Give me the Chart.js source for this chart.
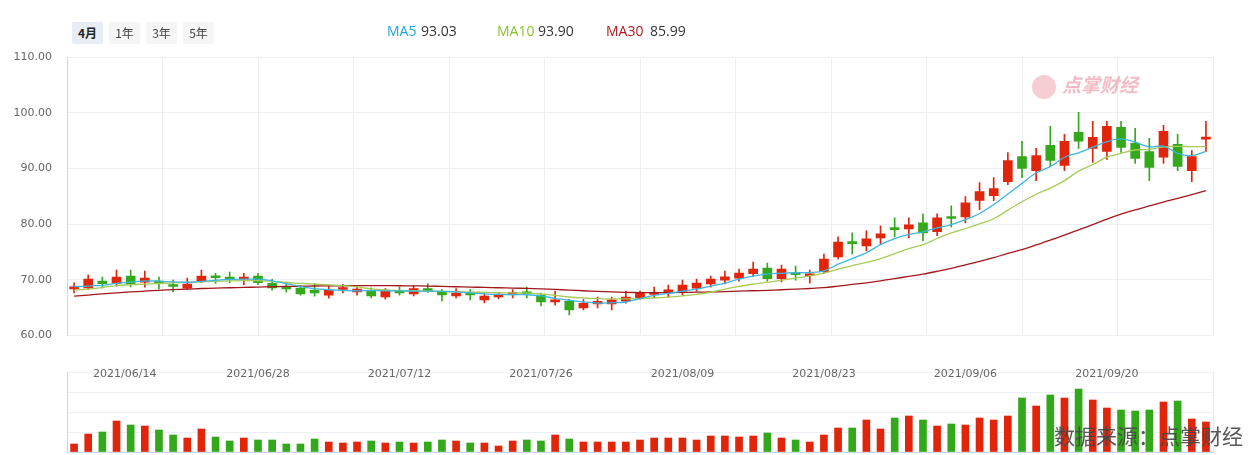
<!DOCTYPE html>
<html>
<head>
<meta charset="utf-8">
<script src="https://cdn.jsdelivr.net/npm/chart.js@4.4.1/dist/chart.umd.min.js"></script>
<style>
  html, body { margin: 0; padding: 0; background: #fff; }
  #wrap { position: relative; width: 1250px; height: 455px; overflow: hidden; background: #fff;
          font-family: 'Liberation Sans', 'Noto Sans CJK SC', sans-serif; }
  canvas { position: absolute; left: 0; }
  #priceChart { top: 0; }
  #volChart { top: 360px; }
  .tabs { position: absolute; left: 72px; top: 22px; z-index: 3; }
  .tab { position: absolute; top: 0; height: 22px; width: 31px; line-height: 22px; text-align: center;
         font-size: 12px; color: #444; background: #f5f5f6; border-radius: 2px;
         font-family: 'Noto Sans CJK SC', sans-serif; }
  .tab.on { background: #e8ecf4; color: #222; font-weight: bold; }
  .legend { position: absolute; top: 21px; left: 387px; z-index: 3; font-size: 14px; color: #333;
            font-family: 'Open Sans', 'Liberation Sans', sans-serif; }
  .legend span { position: absolute; white-space: nowrap; }
  .logo { position: absolute; left: 1032px; top: 70px; z-index: 3; color: #f3bcc5; white-space: nowrap;
          font-family: 'Noto Sans CJK SC', sans-serif; font-weight: bold; font-style: italic; font-size: 19px; }
  .logo b { display: inline-block; width: 24px; height: 24px; border-radius: 50%; background: #f6cdd3;
            vertical-align: middle; margin-right: 6px; }
  .source { position: absolute; right: 7px; top: 420px; z-index: 3; font-size: 21px; color: rgba(70,70,70,0.9);
            font-family: 'Noto Sans CJK SC', sans-serif; white-space: nowrap; }
</style>
</head>
<body>
<div id="wrap">
  <canvas id="priceChart" width="1250" height="357"></canvas>
  <canvas id="volChart" width="1250" height="95"></canvas>
  <div class="tabs">
    <div class="tab on" style="left:0">4月</div>
    <div class="tab" style="left:37px">1年</div>
    <div class="tab" style="left:74px">3年</div>
    <div class="tab" style="left:111px">5年</div>
  </div>
  <div class="legend">
    <span style="left:0;color:#1ea6d6">MA5</span><span style="left:34px">93.03</span>
    <span style="left:110px;color:#8dbf2f">MA10</span><span style="left:151px">93.90</span>
    <span style="left:219px;color:#b01a1e">MA30</span><span style="left:263px">85.99</span>
  </div>
  <div class="logo"><b></b>点掌财经</div>
  <div class="source">数据来源：点掌财经</div>
</div>
<script>
// trading days shown (4 months view)
const dates = [
  '2021/06/09','2021/06/10','2021/06/11','2021/06/14','2021/06/15','2021/06/16','2021/06/17','2021/06/18',
  '2021/06/21','2021/06/22','2021/06/23','2021/06/24','2021/06/25','2021/06/28','2021/06/29','2021/06/30',
  '2021/07/01','2021/07/02','2021/07/05','2021/07/06','2021/07/07','2021/07/08','2021/07/09','2021/07/12',
  '2021/07/13','2021/07/14','2021/07/15','2021/07/16','2021/07/19','2021/07/20','2021/07/21','2021/07/22',
  '2021/07/23','2021/07/26','2021/07/27','2021/07/28','2021/07/29','2021/07/30','2021/08/02','2021/08/03',
  '2021/08/04','2021/08/05','2021/08/06','2021/08/09','2021/08/10','2021/08/11','2021/08/12','2021/08/13',
  '2021/08/16','2021/08/17','2021/08/18','2021/08/19','2021/08/20','2021/08/23','2021/08/24','2021/08/25',
  '2021/08/26','2021/08/27','2021/08/30','2021/08/31','2021/09/01','2021/09/02','2021/09/03','2021/09/06',
  '2021/09/07','2021/09/08','2021/09/09','2021/09/10','2021/09/13','2021/09/14','2021/09/15','2021/09/16',
  '2021/09/17','2021/09/20','2021/09/21','2021/09/22','2021/09/23','2021/09/24','2021/09/27','2021/09/28',
  '2021/09/29'
];
const dateTickIdx = [3, 13, 23, 33, 43, 53, 63, 73];

const opens = [
  68.36, 68.54, 69.75, 69.33, 70.65, 69.57, 69.51, 68.91, 68.48, 69.75,
  70.47, 70.47, 70.11, 70.65, 69.33, 68.72, 68.48, 68.12, 67.22, 68.24,
  67.82, 68.06, 66.92, 68.06, 67.46, 68.42, 67.82, 67.10, 67.58, 66.38,
  66.92, 67.34, 67.58, 67.22, 66.02, 66.14, 64.93, 65.65, 65.65, 66.14,
  66.74, 67.34, 67.82, 67.94, 68.48, 69.26, 69.92, 70.29, 71.07, 72.09,
  70.17, 71.25, 70.71, 71.43, 74.08, 76.78, 76.06, 77.51, 79.31, 79.13,
  80.21, 78.65, 81.24, 81.30, 84.25, 85.09, 87.62, 92.13, 89.60, 94.12,
  90.51, 96.46, 93.58, 93.03, 97.37, 94.48, 93.03, 92.01, 94.30, 89.60,
  95.26
];
const highs = [
  69.45, 70.83, 70.47, 71.73, 71.73, 71.55, 70.47, 69.93, 70.29, 71.73,
  71.13, 71.37, 71.13, 71.13, 70.05, 69.33, 68.97, 69.33, 68.85, 69.15,
  68.72, 68.54, 68.42, 68.66, 68.90, 69.32, 68.24, 68.42, 68.24, 67.52,
  67.70, 68.24, 68.66, 67.58, 67.94, 66.50, 66.44, 66.86, 66.86, 67.94,
  67.94, 68.66, 69.02, 69.92, 70.10, 70.65, 71.55, 71.91, 73.17, 72.99,
  72.63, 72.45, 71.73, 74.62, 77.69, 78.41, 78.77, 79.67, 81.12, 81.12,
  81.84, 81.84, 83.29, 84.91, 87.44, 88.34, 92.85, 94.84, 93.58, 97.55,
  96.10, 100.07, 98.45, 98.45, 98.45, 97.19, 95.38, 97.73, 96.10, 93.21,
  98.45
];
const lows = [
  67.64, 68.24, 68.54, 68.85, 68.72, 68.66, 68.36, 67.82, 68.24, 69.45,
  69.33, 69.45, 69.09, 69.09, 68.12, 67.76, 67.22, 67.04, 66.68, 67.64,
  67.22, 66.74, 66.50, 67.22, 67.10, 67.70, 66.20, 66.74, 66.38, 65.83,
  66.56, 66.74, 66.74, 65.29, 65.41, 63.67, 64.57, 64.93, 64.57, 65.77,
  66.50, 66.74, 66.86, 67.22, 67.94, 68.66, 69.26, 69.74, 70.65, 69.74,
  69.62, 69.92, 69.38, 71.19, 73.72, 74.62, 75.16, 76.36, 77.69, 77.51,
  76.96, 77.93, 79.50, 80.22, 82.57, 84.19, 87.08, 88.34, 87.80, 90.33,
  89.60, 93.58, 91.05, 91.59, 92.85, 90.87, 87.80, 90.87, 89.60, 87.62,
  93.03
];
const closes = [
  68.54, 70.11, 69.27, 70.47, 69.15, 70.29, 69.39, 68.79, 69.21, 70.65,
  70.35, 70.05, 70.23, 69.45, 68.54, 68.36, 67.46, 67.64, 68.12, 68.42,
  68.30, 67.10, 67.94, 67.64, 68.42, 67.94, 67.28, 67.58, 67.28, 67.04,
  67.28, 67.58, 67.46, 66.02, 66.32, 64.57, 65.77, 66.14, 66.38, 66.86,
  67.58, 67.70, 67.94, 69.02, 69.38, 70.10, 70.53, 71.19, 71.91, 70.17,
  71.91, 70.89, 70.83, 73.72, 76.78, 76.48, 77.33, 78.23, 79.01, 79.85,
  78.41, 81.12, 81.00, 83.83, 85.81, 86.36, 91.41, 89.97, 92.31, 91.41,
  94.84, 94.90, 95.56, 97.55, 93.76, 91.77, 90.15, 96.64, 90.33, 92.13,
  95.38
];

const ma5 = [
  68.75, 68.85, 69.00, 69.35, 69.55, 69.80, 69.75, 69.60, 69.55, 69.70,
  69.90, 70.05, 70.10, 70.10, 69.80, 69.30, 68.80, 68.40, 68.20, 68.10,
  68.00, 68.05, 68.00, 68.00, 67.95, 67.95, 67.90, 67.80, 67.65, 67.45,
  67.35, 67.30, 67.30, 67.10, 66.65, 66.30, 66.00, 65.80, 65.85, 66.00,
  66.60, 67.20, 67.55, 67.95, 68.30, 68.85, 69.40, 70.10, 70.65, 71.00,
  71.15, 71.25, 71.30, 71.60, 72.80, 73.80, 74.85, 76.30, 77.40, 78.10,
  78.60, 79.30, 79.90, 80.80, 81.90, 83.50, 85.40, 87.30, 89.20, 90.30,
  92.00, 92.80, 93.80, 94.80, 95.30, 94.70, 93.85, 94.00, 92.70, 92.30,
  93.03
];
const ma10 = [
  68.10, 68.30, 68.60, 68.95, 69.12, 69.22, 69.32, 69.42, 69.52, 69.60,
  69.70, 69.78, 69.85, 69.85, 69.70, 69.50, 69.35, 69.20, 69.08, 68.95,
  68.70, 68.35, 68.15, 68.08, 68.02, 67.96, 67.92, 67.85, 67.78, 67.72,
  67.66, 67.62, 67.60, 67.45, 67.20, 66.90, 66.72, 66.60, 66.56, 66.56,
  66.62, 66.72, 66.88, 67.10, 67.38, 67.75, 68.30, 68.80, 69.20, 69.55,
  69.90, 70.30, 70.70, 71.20, 71.90, 72.55, 73.10, 73.80, 74.70, 75.60,
  76.30, 77.40, 78.40, 79.20, 80.05, 80.95, 82.50, 84.00, 85.35, 86.45,
  87.80, 89.50, 90.70, 92.00, 92.70, 93.30, 93.40, 93.85, 93.95, 93.90,
  93.90
];
const ma30 = [
  67.05, 67.25, 67.45, 67.62, 67.80, 67.95, 68.10, 68.22, 68.32, 68.42,
  68.50, 68.56, 68.62, 68.68, 68.74, 68.79, 68.83, 68.87, 68.90, 68.92,
  68.94, 68.94, 68.93, 68.92, 68.90, 68.86, 68.80, 68.74, 68.68, 68.62,
  68.56, 68.50, 68.44, 68.36, 68.26, 68.14, 68.02, 67.92, 67.82, 67.74,
  67.68, 67.66, 67.68, 67.72, 67.76, 67.80, 67.86, 67.94, 68.02, 68.10,
  68.20, 68.30, 68.42, 68.58, 68.85, 69.15, 69.45, 69.80, 70.20, 70.60,
  71.00, 71.50, 72.05, 72.65, 73.30, 73.95, 74.75, 75.40, 76.25, 77.10,
  78.00, 78.95, 79.90, 80.90, 81.80, 82.55, 83.25, 83.95, 84.60, 85.30,
  85.99
];

// volume (relative units)
const volumes = [
  24, 54, 60, 93, 81, 78, 66, 51, 42, 69,
  45, 33, 42, 36, 36, 24, 24, 39, 30, 27,
  30, 33, 27, 30, 27, 30, 36, 33, 27, 27,
  18, 33, 36, 33, 51, 39, 30, 30, 30, 30,
  36, 42, 42, 42, 36, 48, 48, 45, 48, 57,
  42, 36, 30, 51, 72, 72, 96, 69, 102, 108,
  96, 78, 84, 81, 102, 96, 108, 162, 138, 171,
  162, 189, 156, 132, 126, 123, 126, 150, 153, 99,
  90
];

const priceTicks = [60, 70, 80, 90, 100, 110];

const UP = '#e0250b';
const DOWN = '#34a81b';
const candleColors = opens.map((o, i) => closes[i] >= o ? UP : DOWN);

const GRID = '#eceff4';
const EDGE = '#c9d7ea';
const AXIS_FONT = "'DejaVu Sans', sans-serif";

function initPriceChart() {
  const ctx = document.getElementById('priceChart').getContext('2d');
  return new Chart(ctx, {
    type: 'bar',
    data: {
      labels: dates,
      datasets: [
        {
          type: 'line', label: 'MA5', data: ma5, borderColor: '#3db6e0',
          borderWidth: 1.3, pointRadius: 0, tension: 0.35, order: 0
        },
        {
          type: 'line', label: 'MA10', data: ma10, borderColor: '#a6cb56',
          borderWidth: 1.3, pointRadius: 0, tension: 0.35, order: 0
        },
        {
          type: 'line', label: 'MA30', data: ma30, borderColor: '#a3171c',
          borderWidth: 1.3, pointRadius: 0, tension: 0.35, order: 0
        },
        {
          label: 'body', data: opens.map((o, i) => [o, closes[i]]),
          backgroundColor: candleColors, barThickness: 9, minBarLength: 2,
          grouped: false, order: 1
        },
        {
          label: 'wick', data: lows.map((l, i) => [l, highs[i]]),
          backgroundColor: candleColors, barThickness: 1, grouped: false, order: 2
        }
      ]
    },
    options: {
      responsive: false,
      animation: false,
      layout: { padding: { top: 57, right: 37, bottom: 11, left: 0 } },
      plugins: { legend: { display: false }, tooltip: { enabled: false } },
      scales: {
        x: { display: false, offset: true },
        // vertical grid lines: 12 equal sections across the plot
        xg: {
          type: 'linear', position: 'bottom', min: 0, max: 12, offset: false,
          afterFit: (scale) => { scale.height = 0; },
          ticks: { display: false, stepSize: 1 },
          grid: { color: GRID, drawTicks: false, offset: false },
          border: { display: false }
        },
        y: {
          min: 60, max: 110,
          afterBuildTicks: (scale) => { scale.ticks = priceTicks.map(v => ({ value: v })); },
          afterFit: (scale) => { scale.width = 67; },
          ticks: {
            padding: 15, color: '#666',
            font: { size: 11, family: AXIS_FONT },
            callback: (v) => Number(v).toFixed(2)
          },
          grid: { color: GRID, drawTicks: false },
          border: { color: EDGE, width: 1 }
        }
      }
    }
  });
}

// date labels sit on the top line of the volume panel
const dateLabelPlugin = {
  id: 'dateLabels',
  afterDraw(chart) {
    const { ctx, chartArea, scales } = chart;
    ctx.save();
    ctx.font = '11px ' + AXIS_FONT;
    ctx.fillStyle = '#666';
    ctx.textAlign = 'center';
    ctx.textBaseline = 'middle';
    dateTickIdx.forEach(i => {
      const w = ctx.measureText(dates[i]).width;
      let x = scales.x.getPixelForValue(i);
      x = Math.max(x, chartArea.left + 26 + w / 2);
      ctx.fillText(dates[i], x, chartArea.top + 2);
    });
    ctx.restore();
  }
};

function initVolumeChart() {
  const ctx = document.getElementById('volChart').getContext('2d');
  return new Chart(ctx, {
    type: 'bar',
    data: {
      labels: dates,
      datasets: [{
        label: 'volume', data: volumes, backgroundColor: candleColors, barThickness: 7
      }]
    },
    options: {
      responsive: false,
      animation: false,
      layout: { padding: { top: 12, right: 37, bottom: 3, left: 0 } },
      plugins: { legend: { display: false }, tooltip: { enabled: false } },
      scales: {
        x: {
          offset: true,
          afterFit: (scale) => { scale.height = 0; },
          ticks: { display: false },
          grid: { display: false, drawTicks: false },
          border: { color: EDGE, width: 1 }
        },
        y: {
          min: 0, max: 240,
          afterFit: (scale) => { scale.width = 67; },
          ticks: { display: false, stepSize: 60 },
          grid: { color: GRID, drawTicks: false },
          border: { color: EDGE, width: 1 }
        },
        yr: {
          position: 'right', min: 0, max: 240,
          afterFit: (scale) => { scale.width = 0; },
          ticks: { display: false },
          grid: { display: false, drawTicks: false },
          border: { color: '#e3e8ef', width: 1 }
        }
      }
    },
    plugins: [dateLabelPlugin]
  });
}

document.addEventListener('DOMContentLoaded', () => {
  initPriceChart();
  initVolumeChart();
});
</script>
</body>
</html>
